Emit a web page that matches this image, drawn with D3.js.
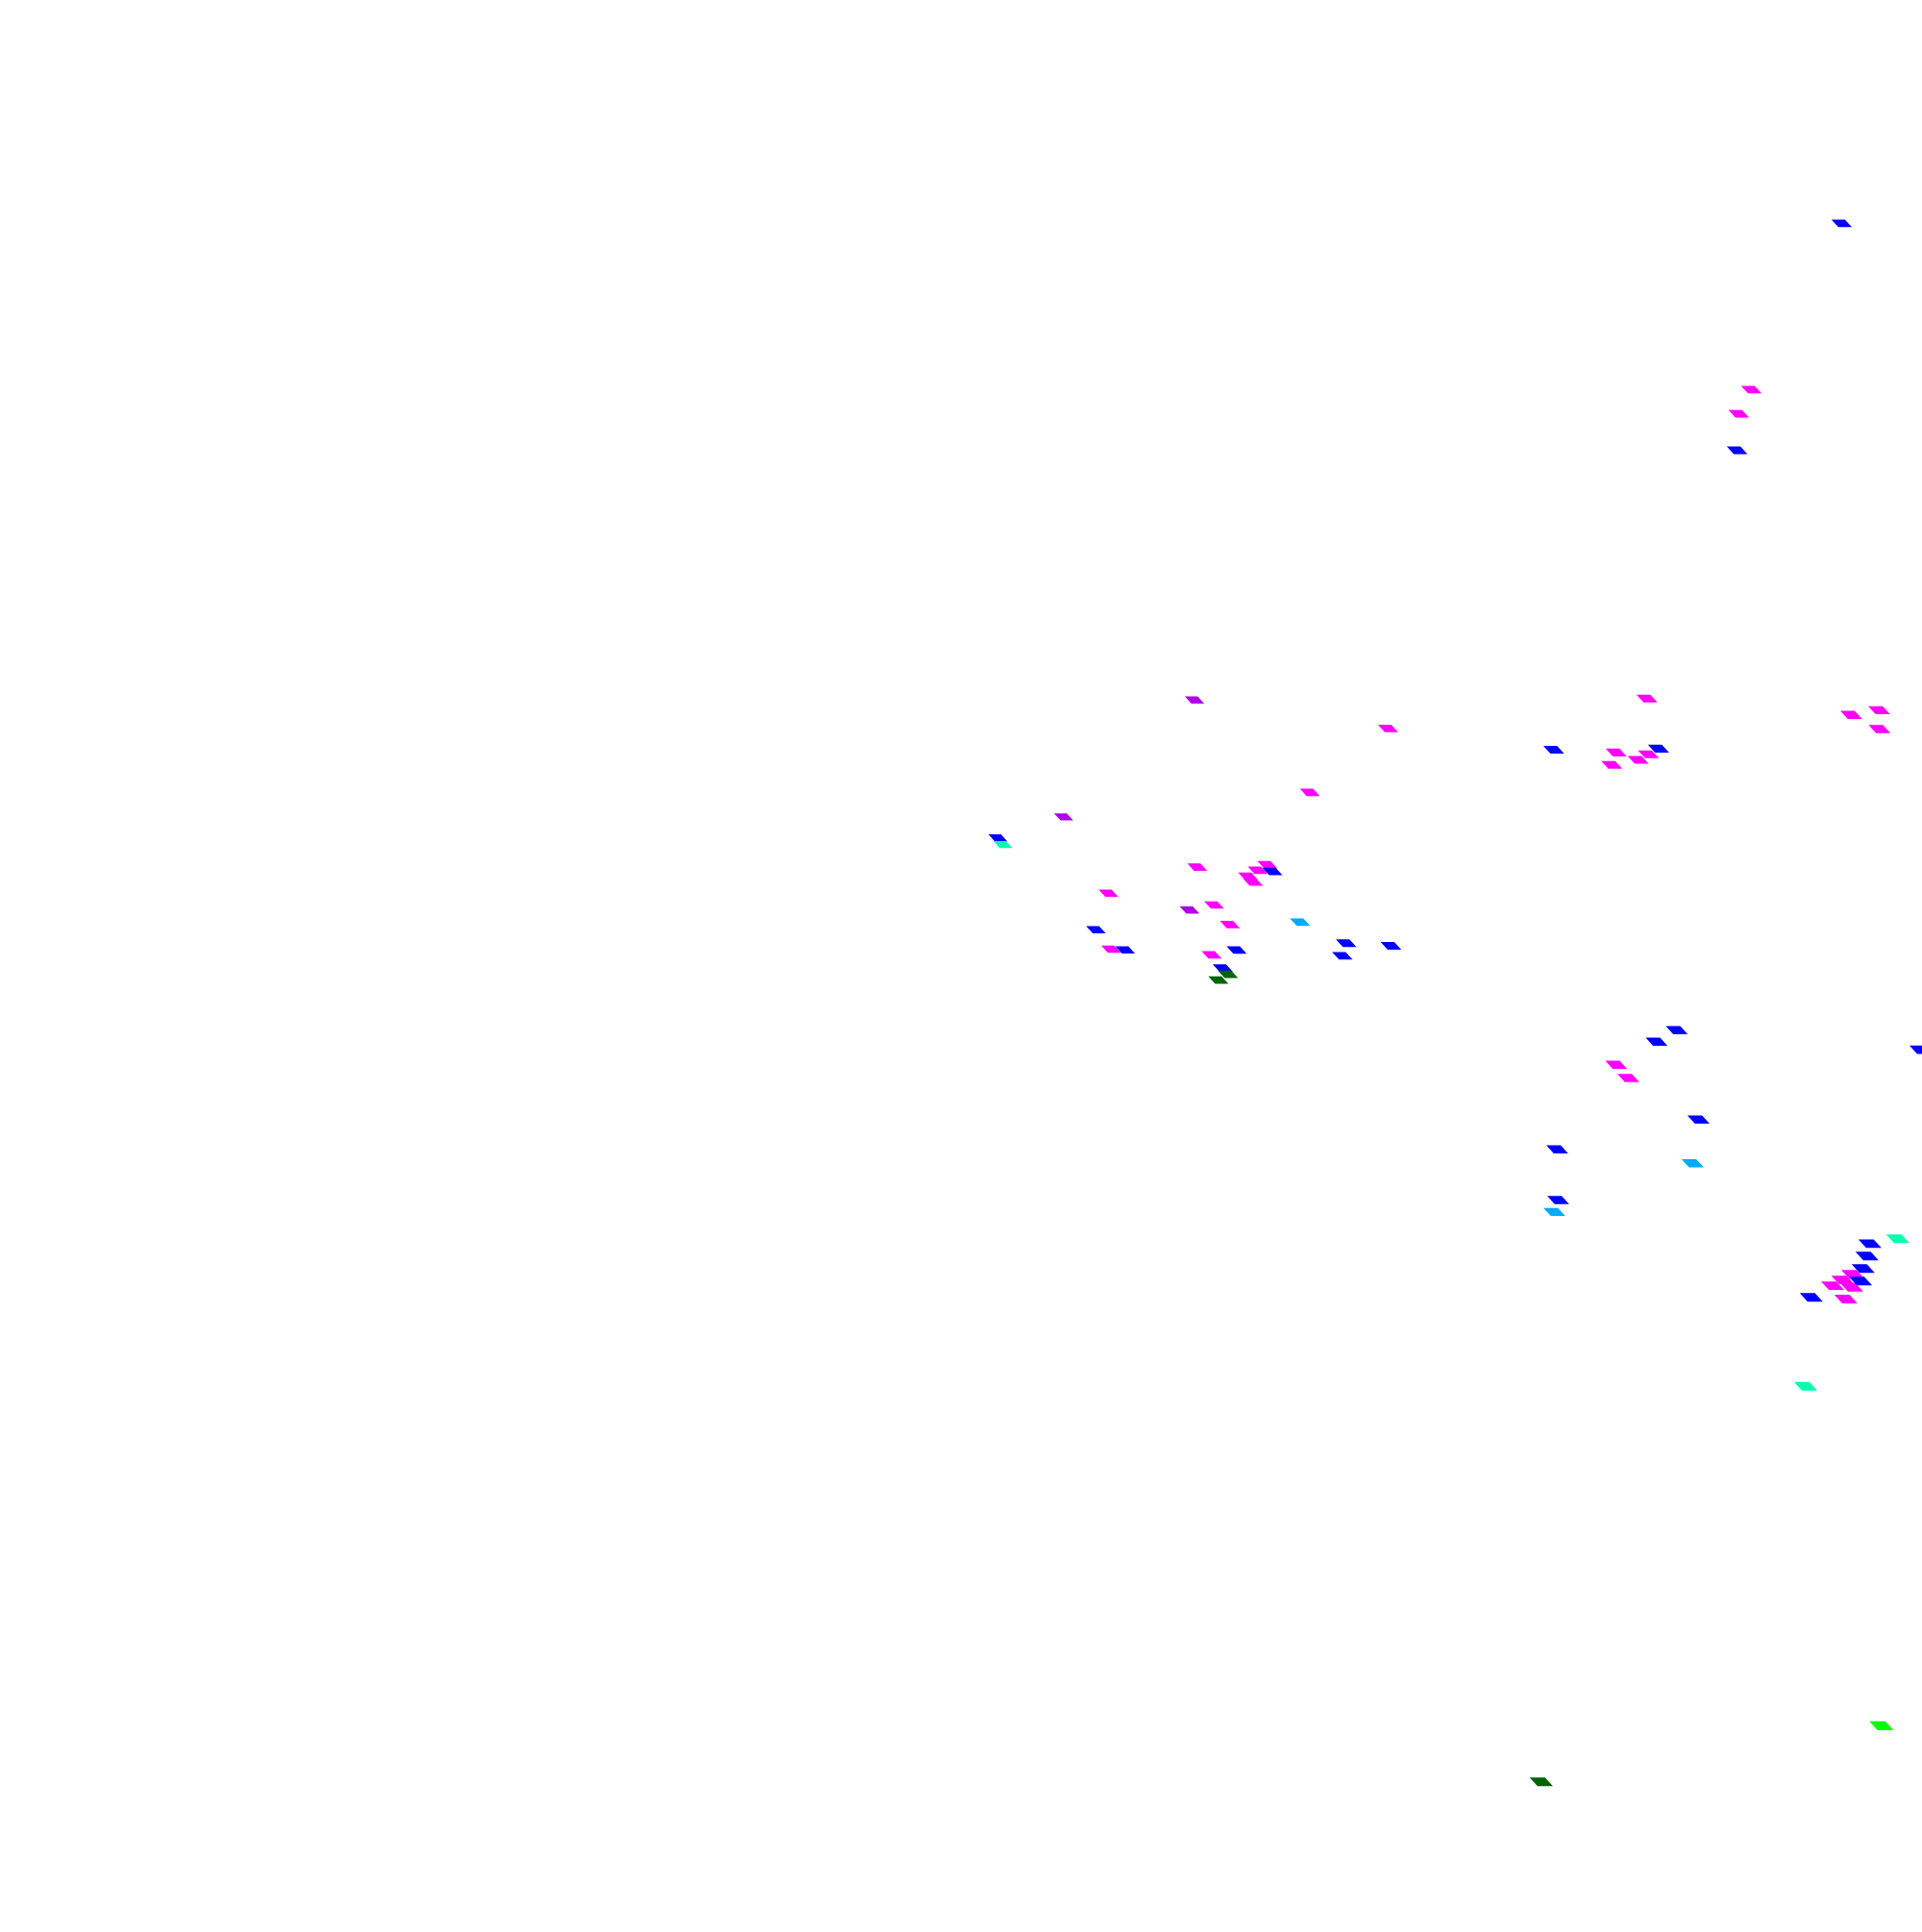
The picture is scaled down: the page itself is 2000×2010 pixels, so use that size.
<!DOCTYPE html>
<html>
<head>
<meta charset="utf-8">
<script src="https://cdn.jsdelivr.net/npm/d3@7"></script>
<style>
  html, body { margin: 0; padding: 0; background: #ffffff; overflow: hidden; }
  svg { display: block; }
</style>
</head>
<body>
<div id="chart"></div>
<script>
// Series data (arbitrary units: x 0-100 left→right, y 0-100 bottom→top)
const magentaX = [91.12, 90.47, 72.22, 68.15, 62.29, 65.94, 65.44, 64.94, 65.19, 57.67, 63.17, 63.99, 57.81, 63.04, 85.69, 84.09, 85.77, 85.23, 83.86, 96.32, 97.77, 97.79, 84.09, 84.72, 96.40, 95.88, 95.35, 96.34, 96.04];
const magentaY = [79.83, 78.58, 62.30, 58.99, 55.12, 55.24, 54.96, 54.65, 54.34, 53.77, 53.16, 52.15, 50.87, 50.58, 63.84, 61.05, 60.96, 60.67, 60.41, 63.00, 63.24, 62.26, 44.89, 44.20, 34.04, 33.75, 33.45, 33.37, 32.76];

const purpleX = [62.15, 55.34, 61.89];
const purpleY = [63.77, 57.72, 52.90];

const blueX = [95.82, 90.38, 51.92, 66.20, 57.02, 58.54, 64.34, 70.04, 72.37, 69.84, 63.62, 80.84, 86.29, 87.24, 86.19, 99.94, 88.37, 81.02, 81.07, 97.29, 97.14, 96.94, 96.80, 94.24];
const blueY = [88.44, 76.69, 56.63, 54.90, 51.88, 50.83, 50.83, 51.18, 51.05, 50.53, 49.90, 61.20, 61.25, 46.68, 46.08, 45.66, 42.05, 40.51, 37.89, 35.63, 34.99, 34.34, 33.69, 32.85];

const lightBlueX = [67.64, 88.07, 80.87];
const lightBlueY = [52.27, 39.79, 37.27];

const tealX = [52.18, 98.74, 93.95];
const tealY = [56.29, 35.88, 28.25];

const darkGreenX = [63.89, 63.39, 80.19];
const darkGreenY = [49.57, 49.27, 7.77];

const greenX = [97.89];
const greenY = [10.68];

const seriesNames = ["magenta", "purple", "blue", "lightblue", "teal", "darkgreen", "green"];
const seriesColors = ["#ff00ff", "#b000e6", "#0000ff", "#00aaff", "#00ffb0", "#006400", "#00ff00"];
const seriesXs = [magentaX, purpleX, blueX, lightBlueX, tealX, darkGreenX, greenX];
const seriesYs = [magentaY, purpleY, blueY, lightBlueY, tealY, darkGreenY, greenY];

const W = 2000, H = 2010;
const svg = d3.select("#chart").append("svg")
  .attr("width", W).attr("height", H)
  .style("background", "#ffffff");

const x = d3.scaleLinear().domain([0, 100]).range([0, W]);
const y = d3.scaleLinear().domain([0, 100]).range([H, 0]);
// marker width grows with perspective (closer = larger)
const size = (px, py) => 14 + 0.0035 * px + 0.0025 * py;

svg.append("clipPath").attr("id", "clip")
  .append("rect").attr("x", 0).attr("y", 0).attr("width", W).attr("height", H);

const g = svg.append("g").attr("clip-path", "url(#clip)");

seriesNames.forEach((name, si) => {
  const pts = seriesXs[si].map((xv, i) => ({ x: xv, y: seriesYs[si][i] }));
  g.append("g").attr("class", "series-" + name)
    .selectAll("path")
    .data(pts)
    .join("path")
    .attr("fill", seriesColors[si])
    .attr("d", d => {
      const cx = x(d.x), cy = y(d.y);
      const w = size(cx, cy);
      const h = 0.37 * w;
      const top = 0.66 * w;
      const left = cx - w / 2;
      const t = cy - h / 2, b = cy + h / 2;
      return `M${left},${t}L${left + top},${t}L${left + w},${b}L${left + w - top},${b}Z`;
    });
});
</script>
</body>
</html>
